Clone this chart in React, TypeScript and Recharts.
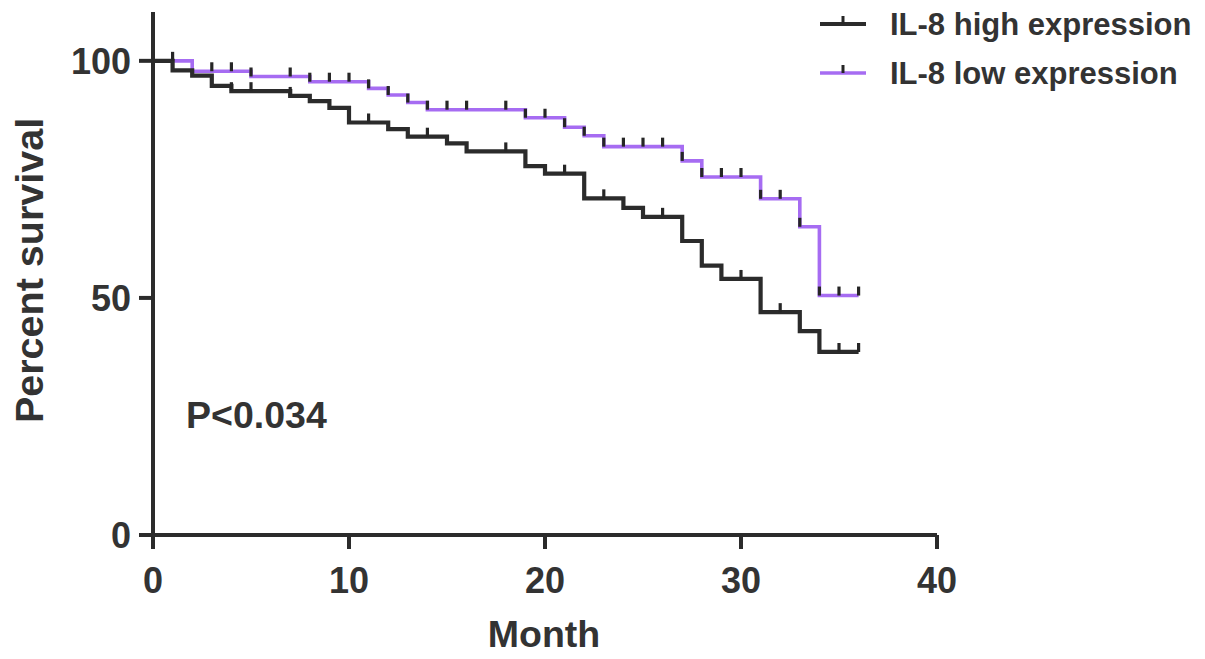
import React from 'react';
import {
  ComposedChart,
  Line,
  Scatter,
  XAxis,
  YAxis,
  Legend,
  Label,
  Customized,
} from 'recharts';

// ---- data ----
const highMonths = [0, 1, 2, 3, 4, 7, 8, 9, 10, 12, 13, 15, 16, 19, 20, 22, 24, 25, 27, 28, 29, 31, 33, 34, 36];
const highSurvival = [100, 98.0, 96.9, 94.7, 93.6, 92.6, 91.5, 90.1, 87.0, 85.6, 84.0, 82.6, 80.9, 77.8, 76.2, 71.0, 69.0, 67.1, 62.0, 56.8, 54.0, 47.0, 43.0, 38.6, 38.6];
const lowMonths = [0, 2, 5, 8, 11, 12, 13, 14, 19, 21, 22, 23, 27, 28, 31, 33, 34, 36];
const lowSurvival = [100, 97.8, 96.7, 95.6, 94.2, 92.8, 91.2, 89.7, 88.0, 86.0, 84.2, 81.9, 78.9, 75.5, 70.9, 65.0, 50.5, 50.5];
const highCensoredMonths = [4, 5, 7, 11, 14, 18, 21, 23, 26, 30, 32, 35, 36];
const lowCensoredMonths = [1, 3, 4, 5, 7, 8, 9, 10, 11, 12, 13, 14, 15, 16, 18, 19, 20, 21, 22, 23, 24, 25, 26, 27, 28, 29, 30, 31, 32, 33, 34, 35, 36];
const xTicks = [0, 10, 20, 30, 40];
const yTicks = [0, 50, 100];
const seriesNames = ['IL-8 high expression', 'IL-8 low expression'];
const pValueText = 'P<0.034';

// ---- styles ----
const FONT = '"Liberation Sans", Arial, Helvetica, sans-serif';
const DARK = '#2b2b2b';
const TEXT = '#333333';
const PURPLE = '#a66cf2';
const TICK_COLOR = '#262626';

const toSteps = (months: number[], surv: number[]) =>
  months.map((m, i) => ({ month: m, s: surv[i] }));

const valueAt = (months: number[], surv: number[], t: number) => {
  let v = surv[0];
  for (let i = 0; i < months.length; i++) {
    if (months[i] <= t) v = surv[i];
  }
  return v;
};

const toCensor = (cm: number[], months: number[], surv: number[]) =>
  cm.map((m) => ({ month: m, s: valueAt(months, surv, m) }));

const highData = toSteps(highMonths, highSurvival);
const lowData = toSteps(lowMonths, lowSurvival);
const highCensor = toCensor(highCensoredMonths, highMonths, highSurvival);
const lowCensor = toCensor(lowCensoredMonths, lowMonths, lowSurvival);

const CensorMark = (props: any) => {
  const { cx, cy } = props;
  if (cx == null || cy == null) return null;
  return <line x1={cx} x2={cx} y1={cy} y2={cy - 9} stroke={TICK_COLOR} strokeWidth={3.2} />;
};

const legendItems = [
  { name: seriesNames[0], color: DARK, width: 4 },
  { name: seriesNames[1], color: PURPLE, width: 3.5 },
];

const LegendContent = () => (
  <svg width={395} height={100} style={{ display: 'block' }}>
    {legendItems.map((it, i) => {
      const y = 24 + i * 49;
      return (
        <g key={it.name}>
          <line x1={10} x2={56} y1={y} y2={y} stroke={it.color} strokeWidth={it.width} />
          <line x1={33} x2={33} y1={y} y2={y - 8} stroke={TICK_COLOR} strokeWidth={3} />
          <text x={80} y={y + 11} fontFamily={FONT} fontWeight="bold" fontSize={31} fill={TEXT}>
            {it.name}
          </text>
        </g>
      );
    })}
  </svg>
);

const YLabel = (props: any) => {
  const vb = props.viewBox || { x: 53, y: 13.6, width: 100, height: 521 };
  const cx = vb.x - 10;
  const cy = vb.y + vb.height / 2 - 3;
  return (
    <text
      x={cx}
      y={cy}
      transform={`rotate(-90, ${cx}, ${cy})`}
      textAnchor="middle"
      fontFamily={FONT}
      fontWeight="bold"
      fontSize={39.5}
      fill={TEXT}
    >
      Percent survival
    </text>
  );
};

const XLabel = (props: any) => {
  const vb = props.viewBox || { x: 153, y: 535, width: 784, height: 60 };
  return (
    <text
      x={vb.x + vb.width / 2 - 1}
      y={647}
      textAnchor="middle"
      fontFamily={FONT}
      fontWeight="bold"
      fontSize={37.5}
      fill={TEXT}
    >
      Month
    </text>
  );
};

const PValue = () => (
  <text x={186} y={428} fontFamily={FONT} fontWeight="bold" fontSize={37.5} fill={TEXT}>
    {pValueText}
  </text>
);

const tickStyle = { fontSize: 36, fontWeight: 'bold', fill: TEXT, fontFamily: FONT } as any;

export default function App() {
  return (
    <div style={{ width: 1205, height: 659, background: '#fff' }}>
      <style>{'body{margin:0;background:#fff;}'}</style>
      <ComposedChart
        width={1205}
        height={659}
        margin={{ top: 12, right: 268, left: 53, bottom: 64 }}
      >
        <XAxis
          type="number"
          dataKey="month"
          domain={[0, 40]}
          ticks={xTicks}
          interval={0}
          height={60}
          tickSize={14}
          tickMargin={18}
          tick={tickStyle}
          axisLine={{ stroke: DARK, strokeWidth: 4 }}
          tickLine={{ stroke: DARK, strokeWidth: 4 }}
          allowDataOverflow
        >
          <Label content={XLabel} />
        </XAxis>
        <YAxis
          type="number"
          domain={[0, 110.3]}
          ticks={yTicks}
          interval={0}
          width={100}
          tickSize={14}
          tickMargin={8}
          tick={tickStyle}
          axisLine={{ stroke: DARK, strokeWidth: 4 }}
          tickLine={{ stroke: DARK, strokeWidth: 4 }}
          allowDataOverflow
        >
          <Label content={YLabel} />
        </YAxis>
        <Line
          data={lowData}
          dataKey="s"
          name={seriesNames[1]}
          type="stepAfter"
          stroke={PURPLE}
          strokeWidth={3.6}
          dot={false}
          activeDot={false}
          isAnimationActive={false}
        />
        <Line
          data={highData}
          dataKey="s"
          name={seriesNames[0]}
          type="stepAfter"
          stroke={DARK}
          strokeWidth={4.2}
          dot={false}
          activeDot={false}
          isAnimationActive={false}
        />
        <Scatter
          data={lowCensor}
          dataKey="s"
          name="low censored"
          shape={CensorMark}
          legendType="none"
          isAnimationActive={false}
        />
        <Scatter
          data={highCensor}
          dataKey="s"
          name="high censored"
          shape={CensorMark}
          legendType="none"
          isAnimationActive={false}
        />
        <Customized component={PValue} />
        <Legend
          layout="horizontal"
          verticalAlign="middle"
          align="center"
          content={LegendContent}
          wrapperStyle={{ position: 'absolute', left: 810, top: 0, width: 395, height: 100 }}
        />
      </ComposedChart>
    </div>
  );
}
